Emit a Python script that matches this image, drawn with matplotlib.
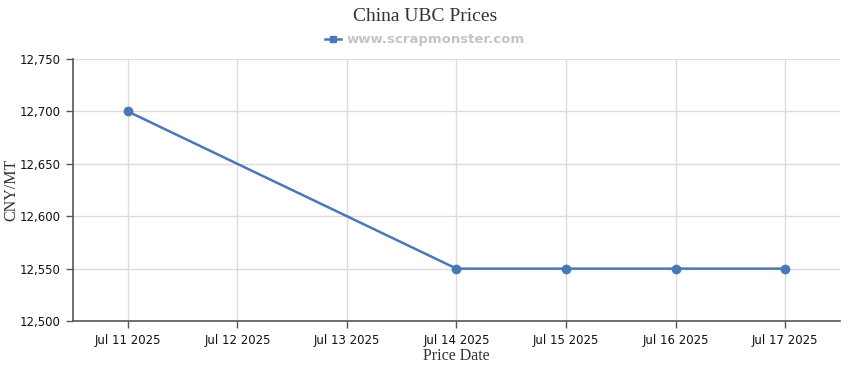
import matplotlib
matplotlib.use("Agg")
import matplotlib.pyplot as plt
import matplotlib.dates as mdates
from matplotlib.ticker import FuncFormatter
import pandas as pd

# data
dates = ["2025-07-11", "2025-07-14", "2025-07-15", "2025-07-16", "2025-07-17"]
prices = [12700, 12550, 12550, 12550, 12550]
tick_dates = ["2025-07-11", "2025-07-12", "2025-07-13", "2025-07-14",
              "2025-07-15", "2025-07-16", "2025-07-17"]
y_ticks = [12500, 12550, 12600, 12650, 12700, 12750]

x = pd.to_datetime(dates)
xt = pd.to_datetime(tick_dates)

line_color = "#4a78b5"
axis_color = "#555555"
grid_color = "#dcdcdc"

fig = plt.figure(figsize=(8.5, 3.7), dpi=100)
ax = fig.add_axes([0.086, 0.1324, 0.902, 0.708])

ax.plot(x, prices, color=line_color, linewidth=1.8, marker="o", markersize=6,
        label="www.scrapmonster.com", zorder=3)

ax.set_xticks(xt)
ax.xaxis.set_major_formatter(mdates.DateFormatter("%b %d %Y"))
ax.set_xlim(xt[0] - pd.Timedelta(hours=12), xt[-1] + pd.Timedelta(hours=12))
ax.set_yticks(y_ticks)
ax.set_ylim(12500, 12750)
ax.yaxis.set_major_formatter(FuncFormatter(lambda v, p: f"{v:,.0f}"))

ax.grid(True, color=grid_color, linewidth=1)
ax.set_axisbelow(True)
for s in ["top", "right"]:
    ax.spines[s].set_visible(False)
for s in ["left", "bottom"]:
    ax.spines[s].set_color(axis_color)
    ax.spines[s].set_linewidth(1.2)
ax.tick_params(axis="both", colors=axis_color, length=5, width=1, labelsize=8.5, pad=4)
for lab in ax.get_xticklabels() + ax.get_yticklabels():
    lab.set_color("#111111")

ax.set_xlabel("Price Date", family="Liberation Serif", fontsize=11.5, color="#333333", labelpad=1)
fig.text(11 / 850, 1 - 190 / 370, "CNY/MT", rotation=90, ha="center", va="center",
         family="Liberation Serif", fontsize=11.5, color="#333333")
fig.text(0.5, 0.955, "China UBC Prices", ha="center", va="center",
         family="Liberation Serif", fontsize=14, color="#333333")

leg = fig.legend(loc="center", bbox_to_anchor=(0.5, 0.892), frameon=False,
                 handlelength=1.2, handletextpad=0.4, prop={"weight": "bold", "size": 9.5})
for t in leg.get_texts():
    t.set_color("#c4c4c4")
for h in leg.legend_handles:
    h.set_marker("s")
    h.set_markersize(5)

fig.savefig("out.png", dpi=100)
